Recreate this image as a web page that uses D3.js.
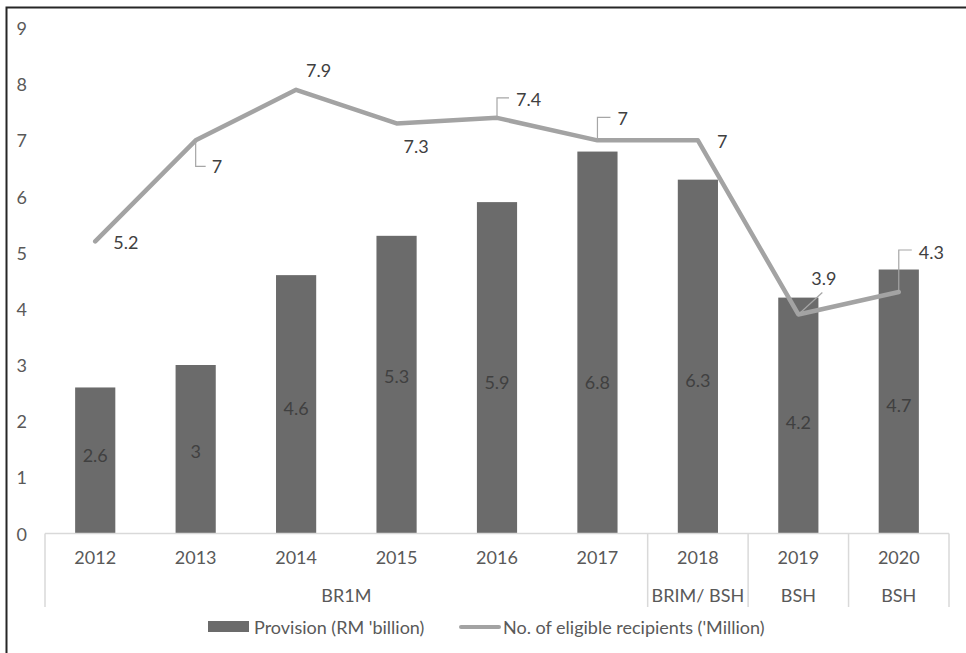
<!DOCTYPE html>
<html>
<head>
<meta charset="utf-8">
<script src="https://cdn.jsdelivr.net/npm/d3@7"></script>
<style>
  html, body { margin: 0; padding: 0; background: #fff; }
  svg { display: block; }
  text { font-family: Lato, "Open Sans", sans-serif; }
</style>
</head>
<body>
<svg id="chart" width="966" height="653"></svg>
<script>
// ---- data ----
const years = ["2012", "2013", "2014", "2015", "2016", "2017", "2018", "2019", "2020"];
const programs = ["BR1M", "BR1M", "BR1M", "BR1M", "BR1M", "BR1M", "BRIM/ BSH", "BSH", "BSH"];
const provision = [2.6, 3, 4.6, 5.3, 5.9, 6.8, 6.3, 4.2, 4.7];
const recipients = [5.2, 7, 7.9, 7.3, 7.4, 7, 7, 3.9, 4.3];
const yTicks = [0, 1, 2, 3, 4, 5, 6, 7, 8, 9];
const seriesNames = ["Provision (RM 'billion)", "No. of eligible recipients ('Million)"];

// ---- style / layout ----
const barColor = "#6b6b6b";
const lineColor = "#a3a3a3";
const axisColor = "#d9d9d9";
const labelColor = "#404040";
const tickColor = "#595959";
const fs = 18;

// bar label anchor heights (axis units) as placed in the original
const barLabelAt = [1.40, 1.47, 2.23, 2.80, 2.70, 2.70, 2.73, 1.99, 2.29];
// line label placement: text start dx, text centre dy, leader path
const lineLabelStyle = [
  { dx: 18, dy: 1 },
  { dx: 16, dy: 26, leader: [[0, 0], [0, 26], [10, 26]] },
  { dx: 10, dy: -20 },
  { dx: 7, dy: 23 },
  { dx: 19, dy: -19, leader: [[0, 0], [0, -20], [12, -20]] },
  { dx: 20, dy: -22, leader: [[0, 0], [0, -23], [13, -23]] },
  { dx: 19, dy: 1 },
  { dx: 13, dy: -36, leader: [[0, 0], [24, -22]] },
  { dx: 20, dy: -40, leader: [[0, 0], [0, -42], [13, -42]] }
];

const svg = d3.select("#chart");

// outer frame
svg.append("rect")
  .attr("x", 6.5).attr("y", 7.5)
  .attr("width", 980).attr("height", 680)
  .attr("fill", "none").attr("stroke", "#262626").attr("stroke-width", 2);

const x = d3.scaleBand().domain(years).range([45, 949]).padding(0);
const y = d3.scaleLinear().domain([0, 9]).range([533.5, 28]);
const barW = x.bandwidth() * 0.4;
const cx = d => x(d) + x.bandwidth() / 2;

// y tick labels
svg.append("g").selectAll("text").data(yTicks).join("text")
  .attr("x", 27).attr("y", d => y(d))
  .attr("text-anchor", "end").attr("dominant-baseline", "central")
  .attr("font-size", fs).attr("fill", tickColor)
  .text(d => d);

// bars
svg.append("g").selectAll("rect").data(provision).join("rect")
  .attr("x", (d, i) => cx(years[i]) - barW / 2)
  .attr("width", barW)
  .attr("y", d => y(d))
  .attr("height", d => y(0) - y(d))
  .attr("fill", barColor);

// bar labels
svg.append("g").selectAll("text").data(provision).join("text")
  .attr("x", (d, i) => cx(years[i]))
  .attr("y", (d, i) => y(barLabelAt[i]))
  .attr("text-anchor", "middle").attr("dominant-baseline", "central")
  .attr("font-size", fs).attr("fill", labelColor)
  .text(d => d);

// category axis
const axisG = svg.append("g");
axisG.append("line")
  .attr("x1", 45).attr("x2", 949).attr("y1", 533.5).attr("y2", 533.5)
  .attr("stroke", axisColor).attr("stroke-width", 1.5);

// group boundaries
const groups = [];
programs.forEach((p, i) => {
  const last = groups[groups.length - 1];
  if (last && last.label === p && p === "BR1M") last.end = i;
  else groups.push({ label: p, start: i, end: i });
});
const boundaries = [x(years[0])].concat(groups.map(g => x(years[g.end]) + x.bandwidth()));
axisG.selectAll("line.sep").data(boundaries).join("line")
  .attr("class", "sep")
  .attr("x1", d => d).attr("x2", d => d)
  .attr("y1", 533.5).attr("y2", 607)
  .attr("stroke", axisColor).attr("stroke-width", 1.5);

axisG.selectAll("text.year").data(years).join("text")
  .attr("class", "year")
  .attr("x", d => cx(d)).attr("y", 557)
  .attr("text-anchor", "middle").attr("dominant-baseline", "central")
  .attr("font-size", fs).attr("fill", tickColor)
  .text(d => d);

axisG.selectAll("text.grp").data(groups).join("text")
  .attr("class", "grp")
  .attr("x", g => (x(years[g.start]) + x(years[g.end]) + x.bandwidth()) / 2)
  .attr("y", 595)
  .attr("text-anchor", "middle").attr("dominant-baseline", "central")
  .attr("font-size", fs).attr("fill", tickColor)
  .text(g => g.label);

// line
const pts = recipients.map((v, i) => [cx(years[i]), y(v)]);
svg.append("path")
  .attr("d", d3.line()(pts))
  .attr("fill", "none").attr("stroke", lineColor)
  .attr("stroke-width", 4.5).attr("stroke-linejoin", "round").attr("stroke-linecap", "round");

// leaders
svg.append("g").selectAll("path").data(recipients).join("path")
  .attr("d", (v, i) => {
    const s = lineLabelStyle[i];
    if (!s.leader) return null;
    return d3.line()(s.leader.map(([a, b]) => [pts[i][0] + a, pts[i][1] + b]));
  })
  .attr("fill", "none").attr("stroke", "#a6a6a6").attr("stroke-width", 1.2);

// line labels
svg.append("g").selectAll("text").data(recipients).join("text")
  .attr("x", (v, i) => pts[i][0] + lineLabelStyle[i].dx)
  .attr("y", (v, i) => pts[i][1] + lineLabelStyle[i].dy)
  .attr("dominant-baseline", "central")
  .attr("font-size", fs).attr("fill", labelColor)
  .text(v => v);

// legend
const lg = svg.append("g");
lg.append("rect").attr("x", 208).attr("y", 621).attr("width", 41).attr("height", 11).attr("fill", barColor);
lg.append("text").attr("x", 254).attr("y", 627).attr("dominant-baseline", "central")
  .attr("font-size", fs).attr("fill", tickColor).text(seriesNames[0]);
lg.append("line").attr("x1", 461).attr("x2", 499).attr("y1", 627).attr("y2", 627)
  .attr("stroke", lineColor).attr("stroke-width", 4).attr("stroke-linecap", "round");
lg.append("text").attr("x", 503).attr("y", 627).attr("dominant-baseline", "central")
  .attr("font-size", fs).attr("fill", tickColor).text(seriesNames[1]);
</script>
</body>
</html>
